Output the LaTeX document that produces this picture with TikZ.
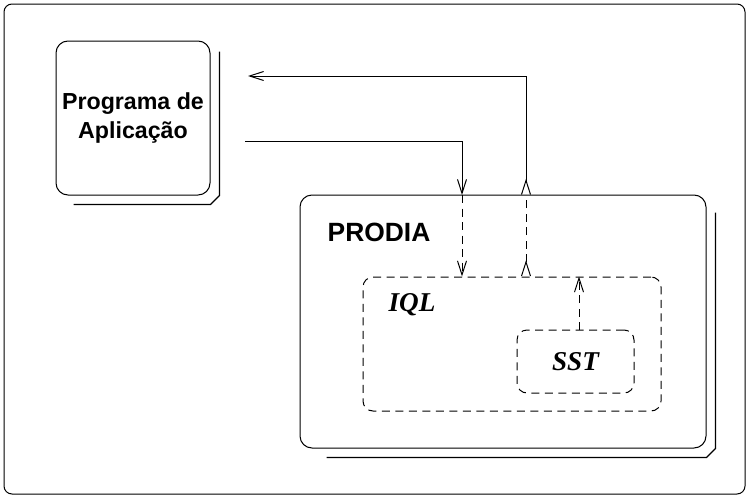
\documentclass[tikz,border=0pt]{standalone}
\usepackage{fontspec}
\setmainfont{Liberation Serif}
\setsansfont{Liberation Sans}
\usetikzlibrary{arrows.meta, calc}

\begin{document}
\begin{tikzpicture}[
    x=0.5pt, y=-0.5pt, line width=0.5pt,
    solidbox/.style={draw, rectangle, rounded corners=6pt, inner sep=0pt},
    dashbox/.style={draw, rectangle, rounded corners=5pt, inner sep=0pt, dash pattern=on 4pt off 2.75pt},
    boxshadow/.style={draw, line width=0.6pt},
    sflbl/.style={font=\sffamily\bfseries\fontsize{11.6}{14.5}\selectfont, align=center},
    itlbl/.style={font=\rmfamily\bfseries\itshape\fontsize{13.6}{15}\selectfont},
    link/.style={-{Straight Barb[length=7pt, width=4.5pt]}},
    dlink/.style={link, dash pattern=on 4pt off 2.75pt},
    twoway/.style={{Straight Barb[reversed, length=7pt, width=4.5pt]}-{Straight Barb[length=7pt, width=4.5pt]}},
    backtip/.style={{Straight Barb[reversed, length=7pt, width=4.5pt]}-, dash pattern=on 4pt off 2.75pt}
]

\useasboundingbox (0,0) rectangle (749,498);
\draw[rounded corners=4pt] (4,4) rectangle (745,494);

% boxes
\node[solidbox, sflbl, minimum width=77pt, minimum height=77pt] (prog) at (133,118) {Programa de\\Aplica\c{c}\~ao};
\node[solidbox, minimum width=203pt, minimum height=126.5pt] (prodia) at (503,321.5) {};
\node[dashbox, minimum width=149pt, minimum height=67pt] (iql) at (512,344) {};
\node[dashbox, itlbl, minimum width=58.5pt, minimum height=31.5pt] (sst) at (575.5,361.5) {SST};

\node[sflbl, font=\sffamily\bfseries\fontsize{13.2}{15}\selectfont] (prodialbl) at (379,232) {PRODIA};
\node[itlbl] (iqllbl) at (412,305) {IQL};

% shadows
\draw[boxshadow] ($(prog.north east)+(9,11)$) -- ($(prog.south east)+(9,0)$)
    -- ($(prog.south east)+(0,9)$) -- ($(prog.south west)+(18,9)$);
\draw[boxshadow] ($(prodia.north east)+(9,18)$) -- ($(prodia.south east)+(9,0)$)
    -- ($(prodia.south east)+(0,9)$) -- ($(prodia.south west)+(27,9)$);

% connectors
\coordinate (progout) at (245,141);
\coordinate (progin) at (248,76);
\coordinate (gin) at (462,195);
\coordinate (gout) at (526,195);
\coordinate (sstout) at (579,330);

\draw[link] (progout) -| (gin);
\draw[dlink] (gin) -- (gin |- iql.north);
\draw[backtip] (gout |- iql.north) -- (gout);
\draw[twoway] (gout) |- (progin);
\draw[dlink] (sstout) -- (sstout |- iql.north);

\end{tikzpicture}
\end{document}
